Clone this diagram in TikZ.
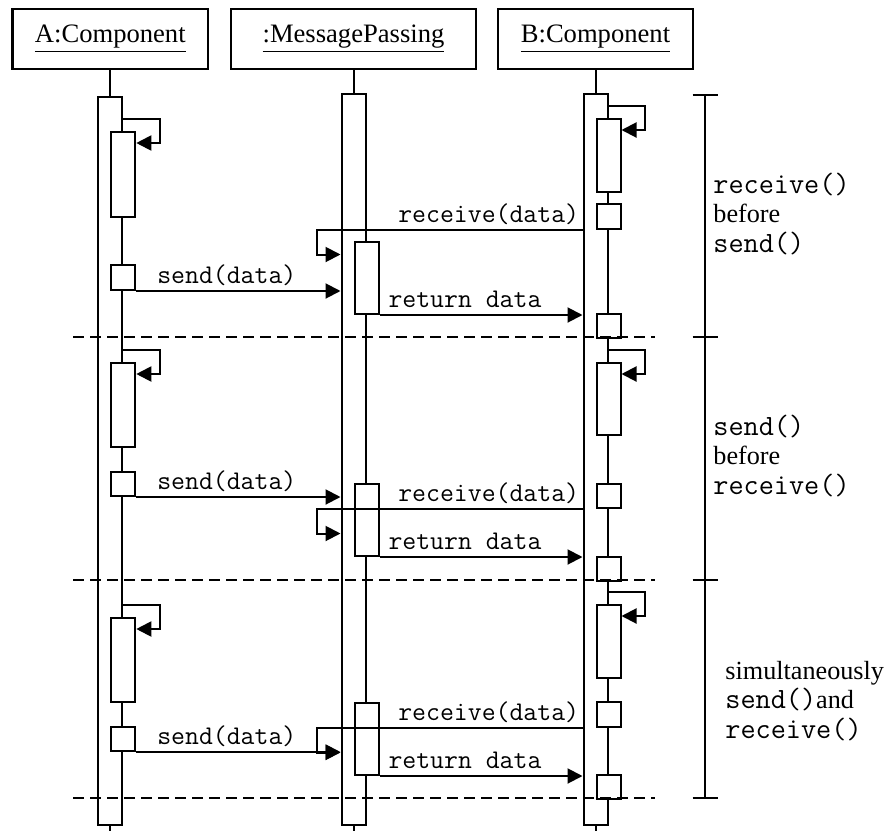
\documentclass[tikz,border=0pt]{standalone}
\usepackage{fontspec}
\setmainfont{Liberation Serif}
\usetikzlibrary{positioning,arrows.meta}
\tikzset{
  obj-box/.style={draw,line width=1.2pt,minimum width=#1,minimum height=30pt,
    inner sep=0pt,font=\fontsize{13.3}{16}\selectfont},
  act-box/.style={draw,fill=white,line width=1pt,minimum width=12pt,
    minimum height=#1,inner sep=0pt,anchor=north},
  life/.style={line width=1pt},
  msg/.style={-{Triangle[length=7.5pt,width=7.5pt]},line width=1pt},
  msg-label/.style={inner sep=0pt,font=\ttfamily\fontsize{13.5}{16}\selectfont},
  sep-line/.style={line width=1pt,dash pattern=on 5.5pt off 3pt},
  phase/.style={line width=1pt},
  phase-label/.style={align=left,anchor=west,inner sep=0pt,
    font=\fontsize{13.1}{14.7}\selectfont},
  phase-code/.style={font=\ttfamily\fontsize{14.7}{14.7}\selectfont},
}
\newcommand{\phcode}[1]{{\ttfamily\fontsize{14.7}{14.7}\selectfont #1}}

\begin{document}
\begin{tikzpicture}[x=0.5pt,y=-0.5pt]
  \useasboundingbox (0,0) rectangle (891,831);
  \coordinate (floor) at (0,831);
  % objects and their lifelines
  \node[obj-box=97.7pt]  (aHead) at (110.3,39) {\underline{A:Component}};
  \node[obj-box=122.5pt] (mHead) at (353.5,39) {\underline{:MessagePassing}};
  \node[obj-box=97.5pt]  (bHead) at (595.5,39) {\underline{B:Component}};
  \node[act-box=364pt,below=13pt of aHead]     (aOut) {};
  \node[act-box=365.5pt,below=11.5pt of mHead] (mOut) {};
  \node[act-box=365.5pt,below=11.5pt of bHead] (bOut) {};
  \foreach \n/\m in {aHead/aOut,mHead/mOut,bHead/bOut} {
    \draw[life] (\n.south) -- (\m.north);
    \draw[life] (\m.south) -- (\m.south |- floor);
  }
  % nested activations
  \node[act-box=42.5pt] (aCall1) at (aOut.east |- 0,131) {};
  \node[act-box=12.5pt] (aSend1) at (aOut.east |- 0,264) {};
  \node[act-box=42pt]   (aCall2) at (aOut.east |- 0,362) {};
  \node[act-box=12pt]   (aSend2) at (aOut.east |- 0,471) {};
  \node[act-box=42pt]   (aCall3) at (aOut.east |- 0,617) {};
  \node[act-box=12pt]   (aSend3) at (aOut.east |- 0,726) {};
  \node[act-box=36pt]   (mRun1)  at (mOut.east |- 0,241) {};
  \node[act-box=36pt]   (mRun2)  at (mOut.east |- 0,483) {};
  \node[act-box=36pt]   (mRun3)  at (mOut.east |- 0,702) {};
  \node[act-box=36.5pt] (bCall1) at (bOut.east |- 0,118) {};
  \node[act-box=12.5pt] (bRecv1) at (bOut.east |- 0,203) {};
  \node[act-box=12pt]   (bRet1)  at (bOut.east |- 0,313) {};
  \node[act-box=36pt]   (bCall2) at (bOut.east |- 0,362) {};
  \node[act-box=12pt]   (bRecv2) at (bOut.east |- 0,483) {};
  \node[act-box=12pt]   (bRet2)  at (bOut.east |- 0,556) {};
  \node[act-box=36.5pt] (bCall3) at (bOut.east |- 0,604) {};
  \node[act-box=12.5pt] (bRecv3) at (bOut.east |- 0,701) {};
  \node[act-box=12pt]   (bRet3)  at (bOut.east |- 0,774) {};
  % self calls
  \foreach \n in {aCall1,aCall2,aCall3,bCall1,bCall2,bCall3}
    \draw[msg] ([yshift=6pt]\n.north) -- ++(18.4pt,0) |- ([yshift=-6pt]\n.north east);
  % messages
  \foreach \i in {1,2,3} {
    \draw[msg] (aSend\i.south east)
      node[msg-label,anchor=base west,xshift=10pt,yshift=3.8pt] (lSend\i) {send(data)}
      -- (aSend\i.south east -| mOut.west);
    \draw[msg] (bRecv\i.south -| bOut.west)
      node[msg-label,anchor=base east,xshift=-1.2pt,yshift=3.6pt] (lRecv\i) {receive(data)}
      -- ([xshift=-12pt]bRecv\i.south -| mOut.west) -- ++(0,-12.25pt) -- ++(12pt,0);
    \draw[msg] (mRun\i.south east)
      node[msg-label,anchor=base west,xshift=4pt,yshift=3.8pt] (lRet\i) {return data}
      -- (mRun\i.south east -| bOut.west);
  }
  % phases
  \foreach \y in {337,580,798}
    \draw[sep-line] (73,\y) -- (655,\y);
  \draw[phase] (705,95) -- (705,798);
  \foreach \y in {95,337,580,798}
    \draw[phase] (692.5,\y) -- (717.5,\y);
  \node[phase-label] (ph1) at (713,214) {\phcode{receive()}\\before\\\phcode{send()}};
  \node[phase-label] (ph2) at (713,456) {\phcode{send()}\\before\\\phcode{receive()}};
  \node[phase-label] (ph3) at (725,701) {simultaneously\\\phcode{send()}and\\\phcode{receive()}};
\end{tikzpicture}
\end{document}
